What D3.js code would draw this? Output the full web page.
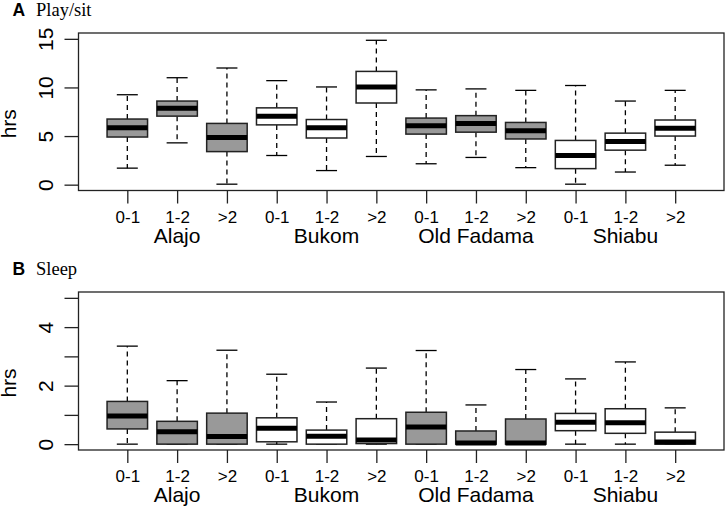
<!DOCTYPE html>
<html><head><meta charset="utf-8">
<script src="https://cdn.jsdelivr.net/npm/d3@7"></script>
<style>body{margin:0;background:#fff}</style></head>
<body><svg id="c" width="725" height="508"></svg>
<script>
// ---- data ----
const sites = ["Alajo", "Bukom", "Old Fadama", "Shiabu"];
const ageGroups = ["0-1", "1-2", ">2"];
const panelTitles = ["Play/sit", "Sleep"];
const panelLetters = ["A", "B"];

// Panel A: Play/sit (hrs), order: Alajo 0-1,1-2,>2, Bukom..., Old Fadama..., Shiabu...
const playLow  = [1.70, 4.30, 0.05, 3.00, 1.45, 2.90, 2.15, 2.80, 1.75, 0.05, 1.30, 2.00];
const playQ1   = [4.90, 7.05, 3.40, 6.15, 4.80, 8.40, 5.20, 5.40, 4.70, 1.65, 3.55, 5.00];
const playMed  = [5.85, 7.85, 4.85, 7.05, 5.85, 10.05, 6.05, 6.30, 5.55, 3.00, 4.45, 5.80];
const playQ3   = [6.75, 8.60, 6.30, 7.90, 6.70, 11.65, 6.85, 7.10, 6.40, 4.55, 5.30, 6.65];
const playHigh = [9.25, 11.00, 12.00, 10.70, 10.05, 14.85, 9.75, 9.85, 9.70, 10.20, 8.60, 9.70];

// Panel B: Sleep (hrs)
const sleepLow  = [0, 0, 0, 0, 0, 0, 0, 0, 0, 0, 0, 0];
const sleepQ1   = [0.52, 0, 0, 0.08, 0, 0.02, 0, 0, 0, 0.46, 0.37, 0];
const sleepMed  = [0.96, 0.42, 0.26, 0.54, 0.27, 0.14, 0.59, 0.04, 0.04, 0.75, 0.73, 0.07];
const sleepQ3   = [1.46, 0.78, 1.06, 0.90, 0.48, 0.87, 1.09, 0.45, 0.86, 1.05, 1.21, 0.41];
const sleepHigh = [3.35, 2.17, 3.21, 2.39, 1.44, 2.60, 3.20, 1.34, 2.55, 2.23, 2.81, 1.24];

const playTicks = [0, 5, 10, 15];
const playTickLabels = ["0", "5", "10", "15"];
const sleepTicks = [0, 1, 2, 3, 4, 5];
const sleepTickLabels = ["0", "", "2", "", "4", ""];

// ---- drawing ----
const svg = d3.select("#c");
const sans = "'Liberation Sans', Arial, Helvetica, sans-serif";
const serif = "'Liberation Serif', 'Times New Roman', serif";
const frameCol = "#222";

const x = d3.scaleLinear().domain([0.02, 12.98]).range([78.5, 724]);

function drawPanel(p, top, bottom, ymax, ticks, tickLabels, low, q1, med, q3, high) {
  const y = d3.scaleLinear().domain([-ymax * 0.04, ymax * 1.04]).range([bottom, top]);
  const g = svg.append("g");
  const rows = low.map((d, i) => ({ i, pos: i + 1, low: low[i], q1: q1[i], med: med[i], q3: q3[i], high: high[i], site: Math.floor(i / 3) }));

  // title
  const titleY = p === 0 ? 15.5 : 274.5;
  g.append("text").attr("x", 12.5).attr("y", titleY).attr("font-family", sans).attr("font-weight", "bold")
    .attr("font-size", 17.5).text(panelLetters[p]);
  g.append("text").attr("x", 36).attr("y", titleY).attr("font-family", serif)
    .attr("font-size", 18.5).text(panelTitles[p]);

  // y axis
  const yAxis = d3.axisLeft(y).tickValues(ticks).tickSize(14).tickSizeOuter(0)
    .tickFormat((d, k) => tickLabels[k]);
  const ya = g.append("g").attr("transform", `translate(${x.range()[0]},0)`).call(yAxis);
  ya.select(".domain").remove();
  ya.selectAll(".tick line").attr("stroke", frameCol).attr("stroke-width", 1.3);
  ya.selectAll(".tick text")
    .attr("x", null).attr("dy", null)
    .attr("transform", "translate(-25.5,0) rotate(-90)")
    .attr("text-anchor", "middle")
    .attr("font-family", sans).attr("font-size", 21).attr("fill", "#000");

  // x axis
  const xAxis = d3.axisBottom(x).tickValues(d3.range(1, 13)).tickSize(13).tickSizeOuter(0)
    .tickFormat(d => ageGroups[(d - 1) % 3]);
  const xa = g.append("g").attr("transform", `translate(0,${bottom})`).call(xAxis);
  xa.select(".domain").remove();
  xa.selectAll(".tick line").attr("stroke", frameCol).attr("stroke-width", 1.3);
  xa.selectAll(".tick text").attr("y", 32).attr("dy", null)
    .attr("font-family", sans).attr("font-size", 17).attr("fill", "#000");

  // site labels
  g.selectAll(".site").data(sites).enter().append("text")
    .attr("x", (d, k) => x(k * 3 + 2)).attr("y", bottom + 52)
    .attr("text-anchor", "middle").attr("font-family", sans).attr("font-size", 21)
    .text(d => d);

  // y label
  g.append("text").attr("transform", `translate(16,${(top + bottom) / 2 + 12}) rotate(-90)`)
    .attr("text-anchor", "middle").attr("font-family", sans).attr("font-size", 21).text("hrs");

  // boxes
  const bw = 40.5, sw = 21;
  const bg = g.append("g");
  const b = bg.selectAll("g.box").data(rows).enter().append("g").attr("class", "box");
  b.append("line").attr("x1", d => x(d.pos)).attr("x2", d => x(d.pos))
    .attr("y1", d => y(d.q3)).attr("y2", d => y(d.high))
    .attr("stroke", "#000").attr("stroke-width", 1.3).attr("stroke-dasharray", "5,4");
  b.append("line").attr("x1", d => x(d.pos)).attr("x2", d => x(d.pos))
    .attr("y1", d => y(d.q1)).attr("y2", d => y(d.low))
    .attr("stroke", "#000").attr("stroke-width", 1.3).attr("stroke-dasharray", "5,4");
  b.append("line").attr("x1", d => x(d.pos) - sw / 2).attr("x2", d => x(d.pos) + sw / 2)
    .attr("y1", d => y(d.high)).attr("y2", d => y(d.high)).attr("stroke", "#000").attr("stroke-width", 1.3);
  b.append("line").attr("x1", d => x(d.pos) - sw / 2).attr("x2", d => x(d.pos) + sw / 2)
    .attr("y1", d => y(d.low)).attr("y2", d => y(d.low)).attr("stroke", "#000").attr("stroke-width", 1.3);
  b.append("rect").attr("x", d => x(d.pos) - bw / 2).attr("width", bw)
    .attr("y", d => y(d.q3)).attr("height", d => Math.max(0.5, y(d.q1) - y(d.q3)))
    .attr("fill", d => d.site % 2 === 0 ? "#999999" : "#ffffff")
    .attr("stroke", frameCol).attr("stroke-width", 1.5);
  b.append("line").attr("x1", d => x(d.pos) - bw / 2).attr("x2", d => x(d.pos) + bw / 2)
    .attr("y1", d => y(d.med)).attr("y2", d => y(d.med)).attr("stroke", "#000").attr("stroke-width", 5);

  // frame
  g.append("rect").attr("x", x.range()[0]).attr("y", top)
    .attr("width", x.range()[1] - x.range()[0]).attr("height", bottom - top)
    .attr("fill", "none").attr("stroke", frameCol).attr("stroke-width", 1.3);
}

drawPanel(0, 33, 190.5, 15, playTicks, playTickLabels, playLow, playQ1, playMed, playQ3, playHigh);
drawPanel(1, 292, 450, 5, sleepTicks, sleepTickLabels, sleepLow, sleepQ1, sleepMed, sleepQ3, sleepHigh);
</script>
</body></html>
